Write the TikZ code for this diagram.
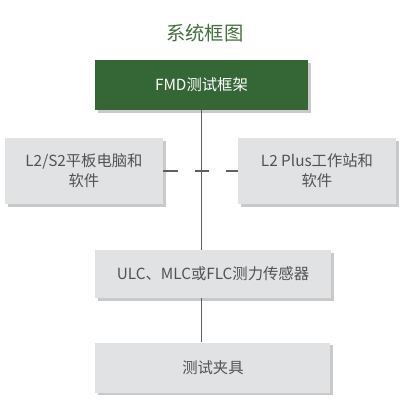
\documentclass[tikz,border=0pt]{standalone}
\usepackage{fontspec}
\setmainfont{Noto Sans CJK SC}
\usepackage{tikz}
\usetikzlibrary{positioning,shadows}
\definecolor{framegreen}{RGB}{52,102,54}
\definecolor{titlegreen}{RGB}{66,112,62}
\definecolor{boxgray}{RGB}{225,226,228}
\definecolor{textgray}{RGB}{82,82,84}
\definecolor{linegray}{RGB}{95,95,95}

\begin{document}
\begin{tikzpicture}[
  title/.style={text=titlegreen,font=\fontsize{14.5}{17}\selectfont},
  box/.style={fill=boxgray,text=textgray,align=center,inner sep=0pt,
    font=\fontsize{11.5}{15}\selectfont,
    drop shadow={shadow xshift=2pt,shadow yshift=-2pt,opacity=0.3,fill=black!70}},
  framebox/.style={box,fill=framegreen,text=white},
  link/.style={draw=linegray,line width=1pt}
]
  \useasboundingbox (0,0) rectangle (303.75pt,-309pt);
  \node[title] (title) at (153.75pt,-24.75pt) {系统框图};
  \node[framebox,minimum width=159.75pt,minimum height=37.5pt] (frame) at (151.1pt,-63.75pt) {FMD测试框架};
  \node[box,minimum width=118.5pt,minimum height=49.5pt] (tablet) at (63pt,-128.25pt) {L2/S2平板电脑和\\软件};
  \node[box,minimum width=118.5pt,minimum height=49.5pt] (station) at (237.75pt,-128.25pt) {L2 Plus工作站和\\软件};
  \node[box,minimum width=177pt,minimum height=36pt] (sensor) at (159.75pt,-205.5pt) {ULC、MLC或FLC测力传感器};
  \node[box,minimum width=176.25pt,minimum height=37.5pt,below=33pt of sensor] (fixture) {测试夹具};
  % connectors
  \draw[link] (frame.south) -- (frame.south |- sensor.north);
  \draw[link] (frame.south |- sensor.south) -- (frame.south |- fixture.north);
  \draw[link,dash pattern=on 11pt off 12.5pt] (tablet.east) -- (station.west);
\end{tikzpicture}
\end{document}
